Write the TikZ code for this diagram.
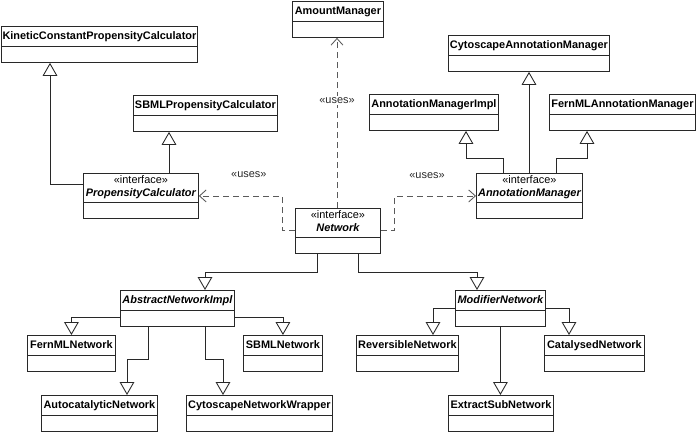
\documentclass[tikz,border=0pt]{standalone}
\usepackage{fontspec}
\usepackage{xcolor}
\usetikzlibrary{calc,arrows.meta}
\newfontfamily\umlfont{Liberation Sans}

\definecolor{umlline}{RGB}{40,40,40}
\definecolor{umldash}{RGB}{90,90,90}

\tikzset{
  umlclass/.style={draw=umlline, line width=0.65pt, anchor=north west, inner sep=0pt,
    minimum width={#1*0.75pt}, text height=9.75pt, text depth=17.25pt,
    font=\umlfont\fontsize{8.2}{9.75}\selectfont\bfseries,
    path picture={\draw[umlline, line width=0.65pt] ($(path picture bounding box.south west)+(0,16)$) -- ($(path picture bounding box.south east)+(0,16)$);}},
  umlabstract/.style={umlclass=#1, font=\umlfont\fontsize{8.2}{9.75}\selectfont\bfseries\itshape},
  umliface/.style={umlclass=#1, align=center, text height=17.6pt, text depth=16.15pt,
    font=\umlfont\fontsize{8.2}{9.75}\selectfont},
  extends/.style={draw=umlline, line width=0.65pt, -{Triangle[open, width=11pt, length=9.75pt, fill=white]}},
  uses/.style={draw=umldash, line width=0.65pt, dash pattern=on 4.5pt off 3pt, -{Straight Barb[width=9pt, length=5pt]}},
  useslabel/.style={text=umlline, inner sep=1pt, font=\umlfont\fontsize{8.2}{9.75}\selectfont}
}

\begin{document}
\begin{tikzpicture}[x=0.75pt,y=0.75pt,yscale=-1]
\useasboundingbox (0,0) rectangle (696,432);

% Classes
\node[umlclass=196] (kinetic) at (1,26) {KineticConstantPropensityCalculator};
\node[umlclass=144] (sbmlprop) at (133,95) {SBMLPropensityCalculator};
\node[umliface=115] (propcalc) at (83,173) {«interface»\\{\bfseries\itshape PropensityCalculator}};
\node[umlclass=91] (amount) at (292,1) {AmountManager};
\node[umliface=85] (network) at (295,208) {«interface»\\{\bfseries\itshape Network}};
\node[umlclass=161] (cyto) at (448,35) {CytoscapeAnnotationManager};
\node[umlclass=129] (annimpl) at (369,94) {AnnotationManagerImpl};
\node[umlclass=146] (fernmlann) at (549,94) {FernMLAnnotationManager};
\node[umliface=106] (annmgr) at (476,173) {«interface»\\{\bfseries\itshape AnnotationManager}};
\node[umlabstract=114] (absnet) at (120,290) {AbstractNetworkImpl};
\node[umlabstract=90] (modnet) at (455,290) {ModifierNetwork};
\node[umlclass=88] (fernmlnet) at (27,335) {FernMLNetwork};
\node[umlclass=79] (sbmlnet) at (243,335) {SBMLNetwork};
\node[umlclass=116] (autocat) at (41,395) {AutocatalyticNetwork};
\node[umlclass=146] (cytowrap) at (186,395) {CytoscapeNetworkWrapper};
\node[umlclass=102] (revnet) at (356,335) {ReversibleNetwork};
\node[umlclass=100] (catnet) at (544,335) {CatalysedNetwork};
\node[umlclass=105] (extract) at (448,395) {ExtractSubNetwork};

% PropensityCalculator
\draw[extends] ($(propcalc.north west)+(0,11)$) -| ($(kinetic.south west)+(49,0)$);
\draw[extends] ($(propcalc.north west)+(86,0)$) -- ($(sbmlprop.south west)+(36,0)$);

% uses
\draw[uses] ($(network.north west)+(42,0)$) -- ($(amount.south west)+(45,0)$)
  node[useslabel, fill=white, pos=0.63] (usesup) {«uses»};
\draw[uses] ($(network.north west)+(0,22)$) -- ++(-13,0) |- (propcalc.east);
\draw[uses] ($(network.north east)+(0,22)$) -- ++(14,0) |- (annmgr.west);
\node[useslabel] (usesleft) at ($(propcalc.east)+(50,-21)$) {«uses»};
\node[useslabel] (usesright) at ($(annmgr.west)+(-49,-20)$) {«uses»};

% AnnotationManager
\draw[extends] ($(annmgr.north west)+(27,0)$) |- ++(-37,-15) -- ($(annimpl.south west)+(97,0)$);
\draw[extends] ($(annmgr.north west)+(53,0)$) -- ($(cyto.south west)+(81,0)$);
\draw[extends] ($(annmgr.north west)+(80,0)$) |- ++(31,-15) -- ($(fernmlann.south west)+(38,0)$);

% Network
\draw[extends] ($(network.south west)+(22,0)$) |- ++(-112,19) -- ($(absnet.north west)+(85,0)$);
\draw[extends] ($(network.south west)+(63,0)$) |- ++(119,19) -- ($(modnet.north west)+(22,0)$);

% AbstractNetworkImpl
\draw[extends] ($(absnet.north west)+(0,27)$) -| (fernmlnet.north);
\draw[extends] ($(absnet.north east)+(0,27)$) -| (sbmlnet.north);
\draw[extends] ($(absnet.south west)+(28,0)$) |- ++(-21,33) -- ($(autocat.north west)+(86,0)$);
\draw[extends] ($(absnet.south west)+(85,0)$) |- ++(18,33) -- ($(cytowrap.north west)+(37,0)$);

% ModifierNetwork
\draw[extends] ($(modnet.north west)+(0,18)$) -| ($(revnet.north west)+(77,0)$);
\draw[extends] ($(modnet.north east)+(0,18)$) -| ($(catnet.north west)+(25,0)$);
\draw[extends] (modnet.south) -- (modnet.south |- extract.north);
\end{tikzpicture}
\end{document}
